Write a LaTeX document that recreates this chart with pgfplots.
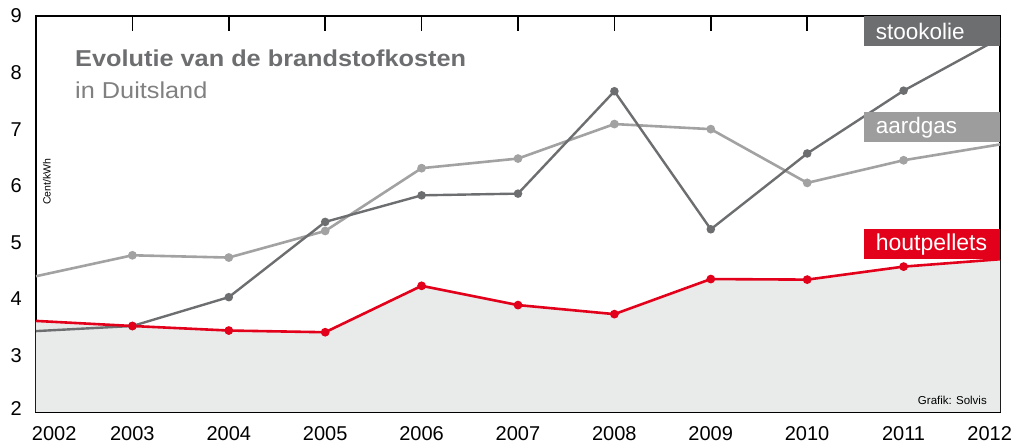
\documentclass[border=0pt]{standalone}
\usepackage{pgfplots}
\pgfplotsset{compat=1.18}
\usepackage{fontspec}
\setmainfont{Liberation Sans}
\definecolor{dgray}{HTML}{6D6E70}
\definecolor{lgray}{HTML}{A2A2A2}
\definecolor{boxlgray}{HTML}{9D9D9D}
\definecolor{pred}{HTML}{E2001A}
\definecolor{fillg}{HTML}{E9EBEB}
\begin{document}
\begin{tikzpicture}
\useasboundingbox (-36pt,-31pt) rectangle (980pt,412pt);
\begin{axis}[
  scale only axis, width=964pt, height=396pt,
  at={(0,0)}, anchor=south west,
  xmin=2002, xmax=2012, ymin=2, ymax=9,
  axis line style={black, line width=1.6pt},
  xtick={2002,...,2012},
  xticklabels={\hbox to 0pt{\hskip-4pt 2002\hss},2003,2004,2005,2006,2007,2008,2009,2010,2011,\hbox to 0pt{\hss 2012\hskip-12pt}},
  ytick={2,...,9},
  yticklabels={\raisebox{6pt}{2},3,4,5,6,7,8,9},
  tick align=inside,
  major tick length=15pt,
  x tick style={black, line width=1.6pt},
  y tick style={draw=none},
  /pgf/number format/assume math mode=true,
  tick label style={font=\fontsize{20}{24}\selectfont, inner sep=0pt},
  xticklabel style={anchor=north, yshift=-14.5pt},
  yticklabel style={anchor=east, xshift=-14pt},
  clip=true,
  every axis plot/.append style={mark indices={2,...,10}},
]
\addplot[fill=fillg, draw=none, forget plot] coordinates {
(2002,3.61) (2003,3.52) (2004,3.44) (2005,3.41) (2006,4.23) (2007,3.89) (2008,3.73) (2009,4.35) (2010,4.34) (2011,4.57) (2012,4.70)
} \closedcycle;
\addplot[lgray, line width=2.6pt, mark=*, mark size=3pt, mark options={fill=lgray, draw=none}] coordinates {
(2002,4.40) (2003,4.77) (2004,4.73) (2005,5.20) (2006,6.31) (2007,6.48) (2008,7.09) (2009,7.00) (2010,6.05) (2011,6.45) (2012,6.73)
};
\addplot[dgray, line width=2.4pt, mark=*, mark size=3pt, mark options={fill=dgray, draw=none}] coordinates {
(2002,3.43) (2003,3.52) (2004,4.03) (2005,5.36) (2006,5.83) (2007,5.86) (2008,7.67) (2009,5.23) (2010,6.57) (2011,7.68) (2012,8.61)
};
\addplot[pred, line width=2.6pt, mark=*, mark size=3pt, mark options={fill=pred, draw=none}] coordinates {
(2002,3.61) (2003,3.52) (2004,3.44) (2005,3.41) (2006,4.23) (2007,3.89) (2008,3.73) (2009,4.35) (2010,4.34) (2011,4.57) (2012,4.70)
};
\node[fill=dgray, anchor=north east, inner sep=0pt, minimum height=30pt, text=white, font=\fontsize{22.5}{26}\selectfont] at (rel axis cs:1,1) {\makebox[136pt][l]{\hspace{12pt}stookolie}};
\node[fill=boxlgray, anchor=north east, inner sep=0pt, minimum height=30pt, text=white, font=\fontsize{22.5}{26}\selectfont] at (rel axis cs:1,0.7576) {\makebox[136pt][l]{\hspace{12pt}aardgas}};
\node[fill=pred, anchor=north east, inner sep=0pt, minimum height=30pt, text=white, font=\fontsize{23}{26}\selectfont] at (rel axis cs:1,0.4621) {\makebox[136pt][l]{\hspace{12pt}houtpellets}};
\node[anchor=base west, inner sep=0pt, text=dgray, font=\fontsize{23}{26}\selectfont\bfseries] at (rel axis cs:0.0405,0.872) {\scalebox{1.1}[1]{Evolutie van de brandstofkosten}};
\node[anchor=base west, inner sep=0pt, text=black!50, font=\fontsize{23}{26}\selectfont] at (rel axis cs:0.0405,0.7922) {\scalebox{1.1}[1]{in Duitsland}};
\node[rotate=90, inner sep=0pt, font=\fontsize{10.5}{12}\selectfont] at (rel axis cs:0.0114,0.581) {Cent/kWh};
\node[anchor=east, inner sep=0pt, font=\fontsize{11.5}{13}\selectfont] at (rel axis cs:0.9865,0.0303) {Grafik: Solvis};
\end{axis}
\end{tikzpicture}
\end{document}
